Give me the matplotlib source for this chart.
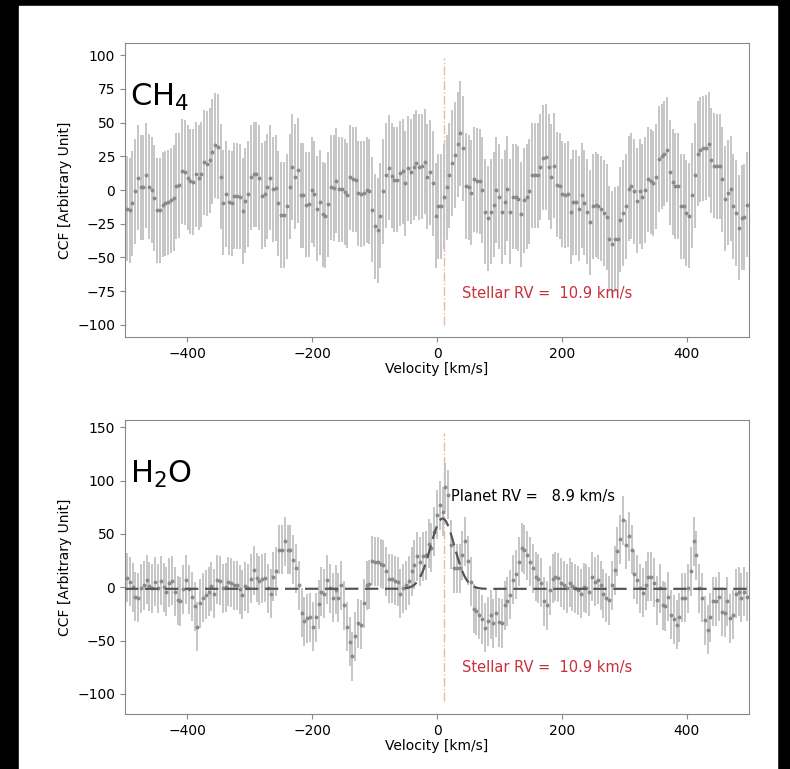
import numpy as np
import matplotlib
matplotlib.use("Agg")
import matplotlib.pyplot as plt
from matplotlib.patches import Rectangle

# CCF values (velocity grid spans about -497..497 km/s)
ch4_ccf = [
    -14, -15, -10, -1, 9, 2, 2, 11, 2.5, 0,
    -6, -15, -15, -11, -10, -9, -7.5, -6, 3, 3.5,
    14, 13, 9, 6.5, 6, 11.5, 9, 11.5, 20.5, 19.5,
    22, 28.5, 33, 32, 10, -9.5, -3, -9, -10, -4.5,
    -4.5, -5, -15.5, -8, -3, 9.5, 11.5, 11.5, 9, -4.5,
    -3, 2.5, 9, 0.5, 1.5, -10, -18.5, -18.5, -12, 2.5,
    17, 10, 14.5, -4, -4, -11, -10.5, 0, -3, -14,
    -9, -18, -19, -10.5, 2, 1.5, 7, 0.5, 0.5, -1.5,
    -4, 9.5, 8, 7.5, -2.5, -3, -2.5, 0, -1, -14.5,
    -27, -30, -19, -1, 11, 16.5, 10.5, 7.5, 7.5, 12.5,
    14, 5, 16, 13.5, 17, 20, 17, 17.5,
    21, 10, 13, 5, -19, -12, -12, -5, 2, 11,
    20, 26, 34, 42, 31, 3, 2, -2, 8, 7,
    6.5, 0, -16, -21, -16, -11, 0, -5, -16, -9,
    1, -16, -5, -5, -6.5, -18, -7.5, -5, -1, 11,
    11, 11, 17, 24, 24.5, 17, 10, 18, 4, 3,
    -3, -4, -3, -16, -9, -9, -14, -4, -9.5, -16,
    -24, -12, -11, -12, -14, -17, -20, -36, -40, -36.5,
    -36, -22, -17, -12, 1, 3, -1, -8, -1, -5,
    0, 8, 6.5, 5, 10, 23, 25, 27, 30, 13,
    6, 3, 3, -12, -12, -17, -19, -4, 11, 27,
    30, 31, 31.5, 34, 22, 18, 17.5, 17.5, 8, -6.5,
    -2, 1, -12, -17, -28, -20.5, -20, -11,
]

h2o_ccf = [
    9, 5, 0, -9, -10, -1, 2, 7, 1, -1,
    5, -1, 6, 0, -4, 4, 6, -4, -12, -13,
    -2, 7, -2, -9, -18, -37, -15, -10, -7, -4,
    1, -6, 7, 6, -1, 0, 5, 4, 2, 2,
    -2, -7, 1, -1, 8, 16, 9, 6, 8, 9,
    -1, -6, 10, 15, 35, 35, 43, 35, 35, 26,
    18, 2, -24, -32, -29, -28, -37, -28, -16, -4,
    -6, 7, -1, -10,
    -2.5, -10, 2, -17, -37, -51, -65, -46, -34, -35,
    -15, 2, 3, 25, 24, 24, 22, 21, 15, 8,
    8, 6, 5, -6, -1, 2, 6, 15, 21, 29,
    24, 29, 30, 41, 37, 52, 68, 77, 71, 94,
    87, 40, 18, 18, 18, 30, 43, 25, 5, -20,
    -22, -26, -30, -38, -32, -26, -34, -24, -33, -34,
    -17, -13, -7, 7, 12, 24, 37, 35, 30, 24,
    18, 10, 8, 4,
    -13, -17, -3, 8, 10, 9, 4, 2, -1, 4,
    1, -1, -3, -6, 0, -1, -4, 10, 5, 7,
    2, -6, -10, -12, 2, 16, 34, 45, 63, 40,
    48, 35, 12, 7, -1, -5, 2, 10, 10, 4,
    -12, -1, -17, -18, -9, -26, -30, -35, -28, -10,
    -10, -1, 15, 43, 30, -1, -10, -31, -40, -28,
    -13, -13, -9, -23, -24, -13, -29, -26, -6, -4,
    -10, -4, -9,
]

ch4_err = 39
h2o_err = 23

stellar_rv = 10.9
planet_rv = 8.9
# gaussian fit to the H2O CCF
fit_amp = 66
fit_sigma = 19
fit_offset = -1.5

v_ch4 = np.linspace(-497, 497, len(ch4_ccf))
v_h2o = np.linspace(-497, 497, len(h2o_ccf))

W, H = 790, 769
fig = plt.figure(figsize=(W / 100, H / 100), dpi=100, facecolor="black")
fig.add_artist(Rectangle((19 / W, 0), (777 - 19) / W, (769 - 6) / H,
                         transform=fig.transFigure, color="white", zorder=-10))

ax1 = fig.add_axes([125 / W, 1 - 337 / H, 624 / W, 294 / H])
ax2 = fig.add_axes([125 / W, 1 - 714 / H, 624 / W, 294 / H])

red = "#c8303a"
dash_col = "#e9b99c"


def draw(ax, v, ccf, err, ylim, vl, label):
    ax.errorbar(v, ccf, yerr=err, fmt="o", ms=1.8, color="#8a8a8a",
                ecolor="#c2c2c2", elinewidth=1.3, capsize=0, zorder=2)
    ax.vlines(stellar_rv, vl[0], vl[1], colors=dash_col, linestyles="-.",
              linewidth=1.0, zorder=1)
    ax.text(40, -80, "Stellar RV =  %.1f km/s" % stellar_rv, color=red,
            fontsize=10.5, va="baseline")
    ax.text(-492, ylim[1] - (ylim[1] - ylim[0]) * 0.215, label, fontsize=22,
            va="baseline")
    ax.set_xlim(-500, 500)
    ax.set_ylim(*ylim)
    ax.set_xlabel("Velocity [km/s]", fontsize=10, labelpad=1)
    ax.set_ylabel("CCF [Arbitrary Unit]", fontsize=10)
    ax.set_xticks([-400, -200, 0, 200, 400])
    for s in ax.spines.values():
        s.set_color("#888888")
    ax.tick_params(labelsize=10, color="#888888", length=3.5)


draw(ax1, v_ch4, ch4_ccf, ch4_err, (-109, 109), (-100, 98), "CH$_4$")
ax1.set_yticks(np.arange(-100, 101, 25))

draw(ax2, v_h2o, h2o_ccf, h2o_err, (-119, 157), (-107, 145), "H$_2$O")
ax2.set_yticks(np.arange(-100, 151, 50))
vv = np.linspace(-500, 500, 1001)
fit = fit_offset + fit_amp * np.exp(-0.5 * ((vv - planet_rv) / fit_sigma) ** 2)
ax2.plot(vv, fit, "--", color="#555555", lw=1.6, dashes=(6, 3), zorder=3)
ax2.text(22, 81, "Planet RV =   %.1f km/s" % planet_rv, color="black",
         fontsize=10.5, va="baseline")

fig.savefig("out.png", dpi=100, facecolor=fig.get_facecolor())
